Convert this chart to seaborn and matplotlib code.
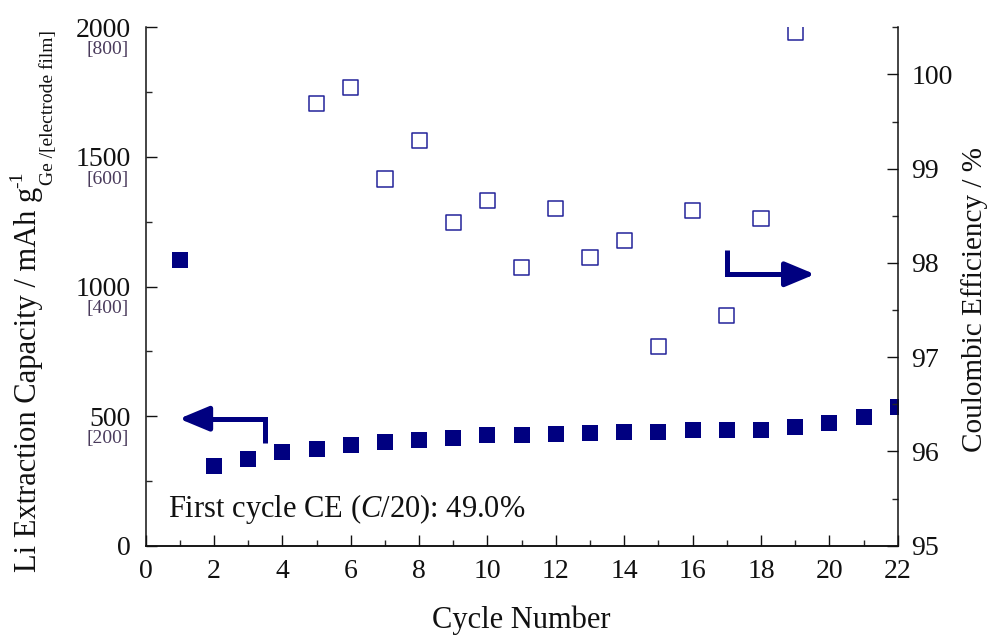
import matplotlib
matplotlib.use("Agg")
import matplotlib.pyplot as plt
import seaborn as sns
import pandas as pd
from matplotlib.ticker import MultipleLocator

# Li extraction capacity per cycle (mAh g^-1, Ge basis)
cycles = list(range(1, 23))
capacity = [1103, 309, 335, 362, 375, 390, 400, 409, 416, 426, 426,
            432, 435, 439, 439, 446, 446, 446, 458, 475, 498, 534]

# Coulombic efficiency (%) for the cycles that fall inside the right-axis window
ce_cycles = list(range(5, 20))
ce_values = [99.69, 99.86, 98.89, 99.30, 98.43, 98.66, 97.95, 98.58,
             98.06, 98.24, 97.11, 98.56, 97.44, 98.47, 100.45]

# Left-axis ticks and the equivalent electrode-film values shown beneath them
cap_ticks = [0, 500, 1000, 1500, 2000]
film_ticks = {500: "[200]", 1000: "[400]", 1500: "[600]", 2000: "[800]"}

navy = "#000080"
open_col = "#23239a"

sns.set_theme(style="ticks")
plt.rcParams["font.family"] = ["Liberation Serif", "DejaVu Serif"]
plt.rcParams["mathtext.fontset"] = "custom"
plt.rcParams["mathtext.rm"] = "Liberation Serif"
plt.rcParams["mathtext.it"] = "Liberation Serif:italic"

cap_df = pd.DataFrame({"cycle": cycles, "capacity": capacity})
ce_df = pd.DataFrame({"cycle": ce_cycles, "ce": ce_values})

fig = plt.figure(figsize=(9.97, 6.37), dpi=100)
ax = fig.add_axes([0.1461, 0.1433, 0.7543, 0.8138])
ax2 = ax.twinx()

sns.scatterplot(data=cap_df, x="cycle", y="capacity", marker="s", s=125,
                color=navy, linewidth=0, ax=ax, zorder=3)
sns.scatterplot(data=ce_df, x="cycle", y="ce", marker="s", s=120,
                color=open_col, linewidth=1.1, ax=ax2, zorder=3)
for coll in ax2.collections:
    coll.set_facecolor("none")
    coll.set_edgecolor(open_col)

ax.set_xlim(0, 22)
ax.set_ylim(0, 2000)
ax2.set_ylim(95, 100.5)

ax.xaxis.set_major_locator(MultipleLocator(2))
ax.xaxis.set_minor_locator(MultipleLocator(1))
ax.yaxis.set_major_locator(MultipleLocator(500))
ax.yaxis.set_minor_locator(MultipleLocator(250))
ax2.yaxis.set_major_locator(MultipleLocator(1))
ax2.yaxis.set_minor_locator(MultipleLocator(0.5))
ax.set_yticks(cap_ticks)

for a in (ax, ax2):
    a.spines["top"].set_visible(False)
    for sp in a.spines.values():
        sp.set_linewidth(1.1)
        sp.set_color("#111111")
    a.set_xlabel("")
    a.set_ylabel("")
ax.spines["right"].set_visible(False)
ax2.spines["left"].set_visible(False)

ax.tick_params(axis="both", which="major", direction="in", length=8, width=1.0,
               labelsize=20, colors="#111111")
ax.tick_params(axis="both", which="minor", direction="in", length=4, width=1.0)
ax.tick_params(axis="x", which="major", pad=9.5)
ax.tick_params(axis="y", which="major", pad=11)
ax.tick_params(axis="x", which="both", top=False)
ax.tick_params(axis="y", which="both", right=False)
ax2.tick_params(axis="y", which="major", direction="in", length=8, width=1.0,
                labelsize=20, pad=10, colors="#111111")
ax2.tick_params(axis="y", which="minor", direction="in", length=4, width=1.0)

# electrode-film capacity values under the main left tick labels
for val, lab in film_ticks.items():
    ax.annotate(lab, xy=(0, val), xycoords=ax.get_yaxis_transform(),
                xytext=(-12, -16), textcoords="offset points",
                ha="right", va="center", fontsize=14, color="#4a3b5c")

# direction arrows pointing to each axis
ax.plot([3.5, 3.5, 1.4], [395, 490, 490], color=navy, lw=3.6,
        solid_capstyle="butt", solid_joinstyle="miter", zorder=4)
ax.annotate("", xy=(0.98, 490), xytext=(1.6, 490),
            arrowprops=dict(arrowstyle="-|>,head_length=1.8,head_width=0.75",
                            color=navy, lw=3.6, shrinkA=0, shrinkB=0,
                            mutation_scale=10), zorder=4)
ax2.plot([17.0, 17.0, 19.2], [98.14, 97.88, 97.88], color=navy, lw=3.6,
         solid_capstyle="butt", solid_joinstyle="miter", zorder=4)
ax2.annotate("", xy=(19.58, 97.88), xytext=(19.0, 97.88),
             arrowprops=dict(arrowstyle="-|>,head_length=1.8,head_width=0.75",
                             color=navy, lw=3.6, shrinkA=0, shrinkB=0,
                             mutation_scale=10), zorder=4)

ax.text(0.65, 112, r"First cycle CE ($\mathit{C}$/20): 49.0%",
        fontsize=22, color="#111111", ha="left", va="baseline")

# axis titles
fig.text(521.7 / 997, 1 - 620 / 637, "Cycle Number", fontsize=22,
         ha="center", va="center", color="#111111")
fig.text(975 / 997, 1 - 300 / 637, "Coulombic Efficiency / %", fontsize=21,
         rotation=90, ha="center", va="center", color="#111111")
ylab = fig.text(29 / 997, 1 - 572 / 637, "Li Extraction Capacity / mAh g",
                fontsize=22, rotation=90, ha="center", va="bottom",
                color="#111111")
ax.annotate("Ge /[electrode film]", xy=(0.5, 1), xycoords=ylab,
            xytext=(14, 1), textcoords="offset points", rotation=90,
            ha="center", va="bottom", fontsize=14, color="#111111",
            annotation_clip=False)
ax.annotate("-1", xy=(0.5, 1), xycoords=ylab,
            xytext=(-8, -1), textcoords="offset points", rotation=90,
            ha="center", va="bottom", fontsize=14, color="#111111",
            annotation_clip=False)

fig.savefig("out.png", dpi=100)
